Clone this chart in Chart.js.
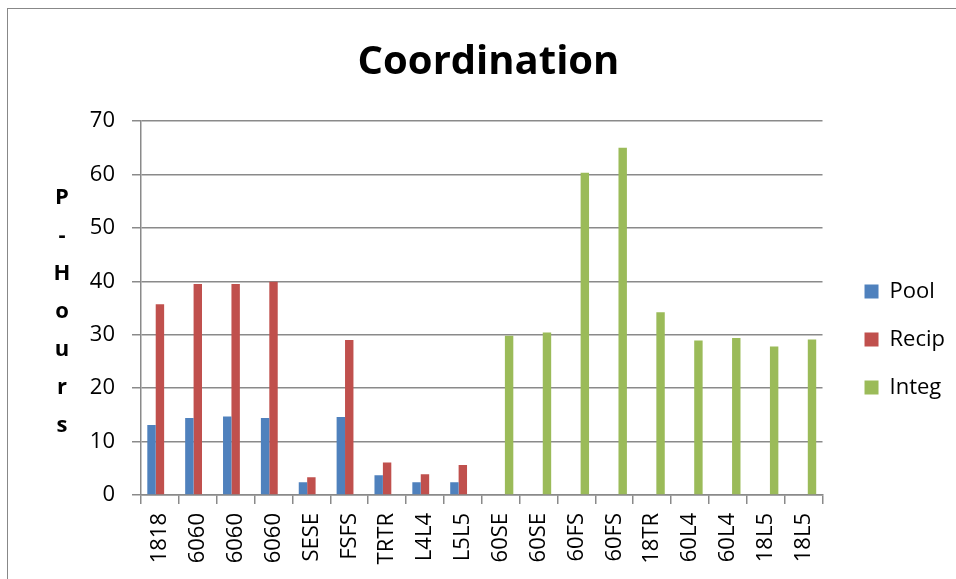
<!DOCTYPE html>
<html>
<head>
<meta charset="utf-8">
<script src="https://cdn.jsdelivr.net/npm/chart.js@4.4.1/dist/chart.umd.min.js"></script>
<style>
    html, body { margin: 0; padding: 0; background: #fff; }
    #wrap { position: relative; width: 956px; height: 579px; }
    #frame { position: absolute; left: 7px; top: 8px; right: -5px; bottom: -5px;
             border-left: 1.5px solid #888; border-top: 1.5px solid #888; pointer-events: none; }
</style>
</head>
<body>
<div id="wrap">
    <canvas id="chart" width="956" height="579"></canvas>
    <div id="frame"></div>
</div>
<script>
const categories = ['1818', '6060', '6060', '6060', 'SESE', 'FSFS', 'TRTR', 'L4L4', 'L5L5',
    '60SE', '60SE', '60FS', '60FS', '18TR', '60L4', '60L4', '18L5', '18L5'];
const poolValues = [13.1, 14.4, 14.7, 14.4, 2.4, 14.6, 3.7, 2.4, 2.4,
    null, null, null, null, null, null, null, null, null];
const recipValues = [35.7, 39.5, 39.5, 39.9, 3.3, 29.0, 6.1, 3.9, 5.6,
    null, null, null, null, null, null, null, null, null];
const integValues = [null, null, null, null, null, null, null, null, null,
    29.8, 30.4, 60.3, 65.0, 34.2, 28.9, 29.4, 27.8, 29.1];
const yTicks = [0, 10, 20, 30, 40, 50, 60, 70];
const yTitle = ['P', '-', 'H', 'o', 'u', 'r', 's'];

const FONT = "'Open Sans', 'DejaVu Sans', sans-serif";
const GRID = '#8a8a8a';

// stacked letters of the y axis title, drawn left of the tick labels
const stackedTitle = {
    id: 'stackedTitle',
    afterDraw(chart) {
        const ctx = chart.ctx;
        const area = chart.chartArea;
        const mid = (area.top + area.bottom) / 2 + 4;
        const step = 38;
        ctx.save();
        ctx.font = 'bold 22px ' + FONT;
        ctx.fillStyle = '#000';
        ctx.textAlign = 'center';
        ctx.textBaseline = 'middle';
        yTitle.forEach((ch, i) => {
            ctx.fillText(ch, area.left - 79, mid + (i - (yTitle.length - 1) / 2) * step);
        });
        ctx.restore();
    }
};

new Chart(document.getElementById('chart'), {
    type: 'bar',
    data: {
        labels: categories,
        datasets: [
            { label: 'Pool', data: poolValues, backgroundColor: '#4F81BD' },
            { label: 'Recip', data: recipValues, backgroundColor: '#C0504D' },
            { label: 'Integ', data: integValues, backgroundColor: '#9BBB59' }
        ]
    },
    options: {
        responsive: false,
        animation: false,
        events: [],
        datasets: { bar: { categoryPercentage: 0.667, barPercentage: 1.0 } },
        layout: { padding: { left: 22, right: 1, top: 0, bottom: 4 } },
        plugins: {
            title: {
                display: true,
                text: 'Coordination',
                color: '#000',
                font: { family: FONT, size: 40, weight: 'bold', lineHeight: 1.2 },
                padding: { top: 39, bottom: 34 }
            },
            legend: {
                position: 'right',
                // empty legend title only pushes the items down
                title: { display: true, text: ' ', font: { size: 1, lineHeight: 1 }, padding: { top: 103, bottom: 0 } },
                labels: {
                    boxWidth: 14,
                    boxHeight: 14,
                    padding: 26,
                    color: '#000',
                    font: { family: FONT, size: 22 }
                }
            },
            tooltip: { enabled: false }
        },
        scales: {
            x: {
                grid: { offset: true, drawOnChartArea: false, color: GRID, lineWidth: 1.5, tickLength: 9 },
                border: { color: GRID, width: 1.5 },
                ticks: { color: '#000', font: { family: FONT, size: 22 }, minRotation: 90, maxRotation: 90, padding: 9 },
                afterFit: s => { s.height = 80; }
            },
            y: {
                min: 0,
                max: 70,
                afterBuildTicks: s => { s.ticks = yTicks.map(v => ({ value: v })); },
                grid: { color: GRID, lineWidth: 1.5, tickLength: 9 },
                border: { color: GRID, width: 1.5 },
                ticks: { color: '#000', font: { family: FONT, size: 22 }, padding: 17 },
                afterFit: s => { s.width = 119; }
            },
            gap: {
                type: 'linear',
                position: 'right',
                grid: { display: false },
                border: { display: false },
                ticks: { display: false },
                afterFit: s => { s.width = 16; }
            }
        }
    },
    plugins: [stackedTitle]
});
</script>
</body>
</html>
